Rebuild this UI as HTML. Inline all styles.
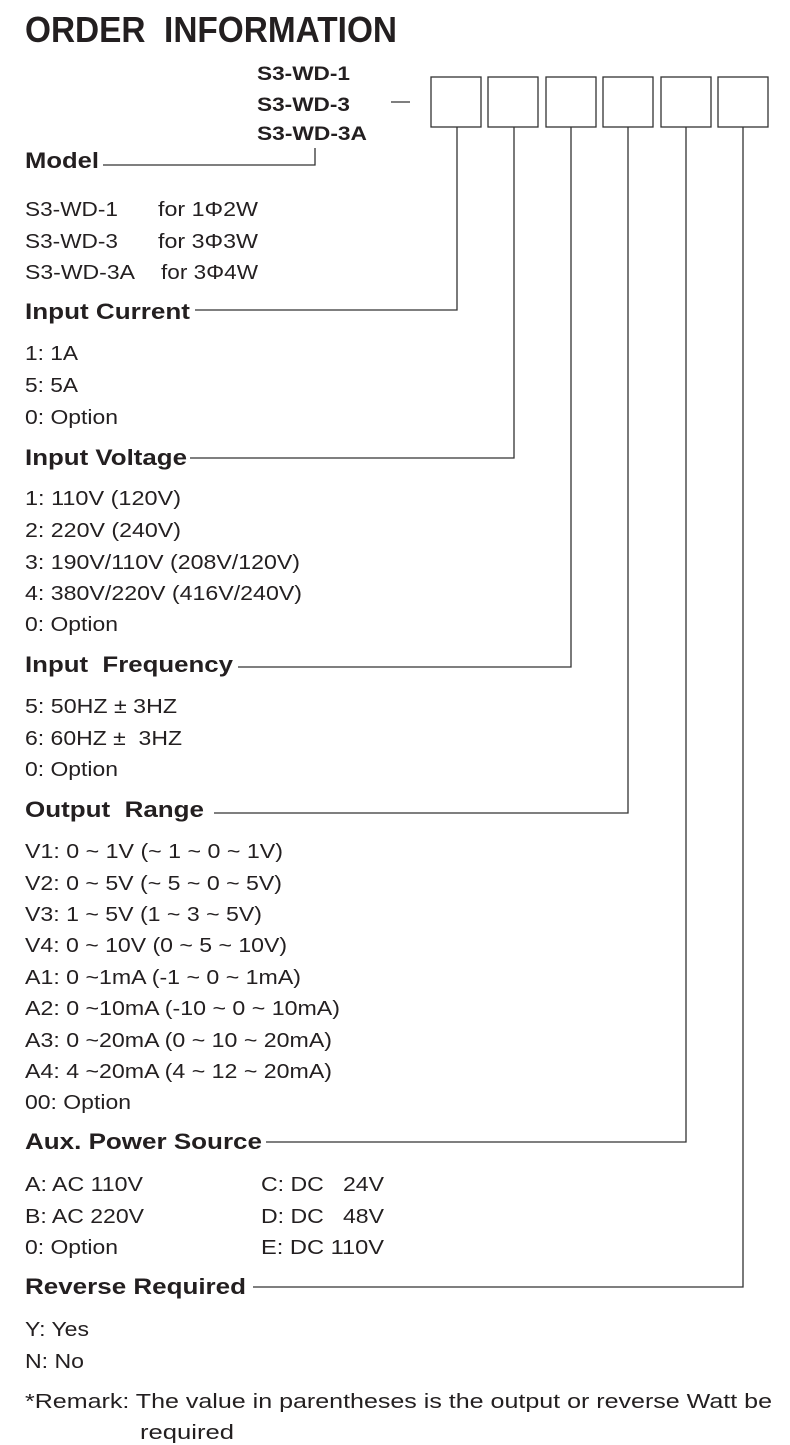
<!DOCTYPE html>
<html><head><meta charset="utf-8"><style>
html,body{margin:0;padding:0;background:#fff;}
svg{display:block;}
text{font-family:"Liberation Sans",Arial,sans-serif;fill:#231f20;white-space:pre;}
.h{font-weight:bold;font-size:22px;}
.b{font-size:20px;}
.m{font-weight:bold;font-size:19px;}
</style></head><body>
<svg width="790" height="1445" viewBox="0 0 790 1445" xmlns="http://www.w3.org/2000/svg" xml:space="preserve">
<g stroke="#333" stroke-width="1.3" fill="none">
<rect x="431" y="77" width="50" height="50"/>
<rect x="488" y="77" width="50" height="50"/>
<rect x="546" y="77" width="50" height="50"/>
<rect x="603" y="77" width="50" height="50"/>
<rect x="661" y="77" width="50" height="50"/>
<rect x="718" y="77" width="50" height="50"/>
<line x1="391" y1="102" x2="410" y2="102"/>
<polyline points="103,165 315,165 315,148"/>
<polyline points="195,310 457,310 457,127"/>
<polyline points="190,458 514,458 514,127"/>
<polyline points="238,667 571,667 571,127"/>
<polyline points="214,813 628,813 628,127"/>
<polyline points="266,1142 686,1142 686,127"/>
<polyline points="253,1287 743,1287 743,127"/>
</g>
<text x="25" y="42" font-weight="bold" font-size="36" textLength="372" lengthAdjust="spacingAndGlyphs">ORDER  INFORMATION</text>
<text class="m" x="257" y="80" textLength="93" lengthAdjust="spacingAndGlyphs">S3-WD-1</text>
<text class="m" x="257" y="111" textLength="93" lengthAdjust="spacingAndGlyphs">S3-WD-3</text>
<text class="m" x="257" y="140" textLength="110" lengthAdjust="spacingAndGlyphs">S3-WD-3A</text>
<text class="h" x="25" y="168" textLength="74" lengthAdjust="spacingAndGlyphs">Model</text>
<text class="b" x="25" y="216" textLength="93" lengthAdjust="spacingAndGlyphs">S3-WD-1</text>
<text class="b" x="158" y="216" textLength="100" lengthAdjust="spacingAndGlyphs">for 1Φ2W</text>
<text class="b" x="25" y="248" textLength="93" lengthAdjust="spacingAndGlyphs">S3-WD-3</text>
<text class="b" x="158" y="248" textLength="100" lengthAdjust="spacingAndGlyphs">for 3Φ3W</text>
<text class="b" x="25" y="279" textLength="110" lengthAdjust="spacingAndGlyphs">S3-WD-3A</text>
<text class="b" x="161" y="279" textLength="97" lengthAdjust="spacingAndGlyphs">for 3Φ4W</text>
<text class="h" x="25" y="319" textLength="165" lengthAdjust="spacingAndGlyphs">Input Current</text>
<text class="b" x="25" y="360" textLength="53" lengthAdjust="spacingAndGlyphs">1: 1A</text>
<text class="b" x="25" y="392" textLength="53" lengthAdjust="spacingAndGlyphs">5: 5A</text>
<text class="b" x="25" y="424" textLength="93" lengthAdjust="spacingAndGlyphs">0: Option</text>
<text class="h" x="25" y="465" textLength="162" lengthAdjust="spacingAndGlyphs">Input Voltage</text>
<text class="b" x="25" y="505" textLength="156" lengthAdjust="spacingAndGlyphs">1: 110V (120V)</text>
<text class="b" x="25" y="537" textLength="156" lengthAdjust="spacingAndGlyphs">2: 220V (240V)</text>
<text class="b" x="25" y="569" textLength="275" lengthAdjust="spacingAndGlyphs">3: 190V/110V (208V/120V)</text>
<text class="b" x="25" y="600" textLength="277" lengthAdjust="spacingAndGlyphs">4: 380V/220V (416V/240V)</text>
<text class="b" x="25" y="631" textLength="93" lengthAdjust="spacingAndGlyphs">0: Option</text>
<text class="h" x="25" y="672" textLength="208" lengthAdjust="spacingAndGlyphs">Input  Frequency</text>
<text class="b" x="25" y="713" textLength="152" lengthAdjust="spacingAndGlyphs">5: 50HZ ± 3HZ</text>
<text class="b" x="25" y="745" textLength="157" lengthAdjust="spacingAndGlyphs">6: 60HZ ±  3HZ</text>
<text class="b" x="25" y="776" textLength="93" lengthAdjust="spacingAndGlyphs">0: Option</text>
<text class="h" x="25" y="817" textLength="179" lengthAdjust="spacingAndGlyphs">Output  Range</text>
<text class="b" x="25" y="858" textLength="258" lengthAdjust="spacingAndGlyphs">V1: 0 ~ 1V (~ 1 ~ 0 ~ 1V)</text>
<text class="b" x="25" y="890" textLength="257" lengthAdjust="spacingAndGlyphs">V2: 0 ~ 5V (~ 5 ~ 0 ~ 5V)</text>
<text class="b" x="25" y="921" textLength="237" lengthAdjust="spacingAndGlyphs">V3: 1 ~ 5V (1 ~ 3 ~ 5V)</text>
<text class="b" x="25" y="952" textLength="262" lengthAdjust="spacingAndGlyphs">V4: 0 ~ 10V (0 ~ 5 ~ 10V)</text>
<text class="b" x="25" y="984" textLength="276" lengthAdjust="spacingAndGlyphs">A1: 0 ~1mA (-1 ~ 0 ~ 1mA)</text>
<text class="b" x="25" y="1015" textLength="315" lengthAdjust="spacingAndGlyphs">A2: 0 ~10mA (-10 ~ 0 ~ 10mA)</text>
<text class="b" x="25" y="1047" textLength="307" lengthAdjust="spacingAndGlyphs">A3: 0 ~20mA (0 ~ 10 ~ 20mA)</text>
<text class="b" x="25" y="1078" textLength="307" lengthAdjust="spacingAndGlyphs">A4: 4 ~20mA (4 ~ 12 ~ 20mA)</text>
<text class="b" x="25" y="1109" textLength="106" lengthAdjust="spacingAndGlyphs">00: Option</text>
<text class="h" x="25" y="1149" textLength="237" lengthAdjust="spacingAndGlyphs">Aux. Power Source</text>
<text class="b" x="25" y="1191" textLength="118" lengthAdjust="spacingAndGlyphs">A: AC 110V</text>
<text class="b" x="261" y="1191" textLength="123" lengthAdjust="spacingAndGlyphs">C: DC   24V</text>
<text class="b" x="25" y="1223" textLength="119" lengthAdjust="spacingAndGlyphs">B: AC 220V</text>
<text class="b" x="261" y="1223" textLength="123" lengthAdjust="spacingAndGlyphs">D: DC   48V</text>
<text class="b" x="25" y="1254" textLength="93" lengthAdjust="spacingAndGlyphs">0: Option</text>
<text class="b" x="261" y="1254" textLength="123" lengthAdjust="spacingAndGlyphs">E: DC 110V</text>
<text class="h" x="25" y="1294" textLength="221" lengthAdjust="spacingAndGlyphs">Reverse Required</text>
<text class="b" x="25" y="1336" textLength="64" lengthAdjust="spacingAndGlyphs">Y: Yes</text>
<text class="b" x="25" y="1368" textLength="59" lengthAdjust="spacingAndGlyphs">N: No</text>
<text class="b" x="25" y="1408" textLength="747" lengthAdjust="spacingAndGlyphs">*Remark: The value in parentheses is the output or reverse Watt be</text>
<text class="b" x="140" y="1439" textLength="94" lengthAdjust="spacingAndGlyphs">required</text>
</svg>
</body></html>
